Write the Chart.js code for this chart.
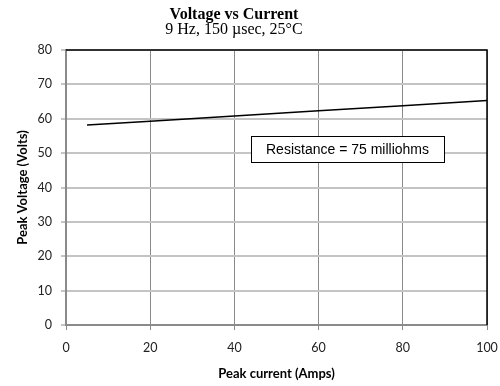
<!DOCTYPE html>
<html lang="en">
<head>
    <meta charset="UTF-8">
    <title>Voltage vs Current</title>
    <script src="https://cdn.jsdelivr.net/npm/chart.js"></script>
    <style>
        html, body { margin: 0; padding: 0; background: #fff; }
        #wrap { width: 500px; height: 386px; position: relative; }
    </style>
</head>
<body>
    <div id="wrap"><canvas id="chart"></canvas></div>

    <script>
        // values
        const currentAmps = [5, 20, 40, 60, 80, 100];
        const peakVolts = [58.2, 59.3, 60.8, 62.3, 63.8, 65.3];
        const titleText = 'Voltage vs Current';
        const subtitleText = '9 Hz, 150 \u00b5sec, 25\u00b0C';
        const noteText = 'Resistance = 75 milliohms';
        const xTicks = [0, 20, 40, 60, 80, 100];
        const yTicks = [0, 10, 20, 30, 40, 50, 60, 70, 80];

        const sansFont = 'Lato, "Open Sans", sans-serif';

        // titles, frame and the resistance note
        const decorPlugin = {
            id: 'decor',
            afterDraw(chart) {
                const ctx = chart.ctx;
                const a = chart.chartArea;
                ctx.save();
                // top and right frame lines
                ctx.strokeStyle = '#000';
                ctx.lineWidth = 1.5;
                ctx.beginPath();
                ctx.moveTo(a.left, a.top);
                ctx.lineTo(a.right, a.top);
                ctx.lineTo(a.right, a.bottom);
                ctx.stroke();

                // title + subtitle
                ctx.fillStyle = '#000';
                ctx.textAlign = 'center';
                ctx.textBaseline = 'alphabetic';
                ctx.font = 'bold 16px "Liberation Serif", "DejaVu Serif", serif';
                ctx.fillText(titleText, 234, 19);
                ctx.font = '16px "Liberation Serif", "DejaVu Serif", serif';
                ctx.fillText(subtitleText, 234, 34);

                // note box
                const bx = 251, by = 136, bw = 193, bh = 26;
                ctx.fillStyle = '#fff';
                ctx.fillRect(bx, by, bw, bh);
                ctx.strokeStyle = '#000';
                ctx.lineWidth = 1;
                ctx.strokeRect(bx + 0.5, by + 0.5, bw, bh);
                ctx.fillStyle = '#000';
                ctx.textBaseline = 'middle';
                ctx.font = '14px "Liberation Sans", Arial, sans-serif';
                ctx.fillText(noteText, bx + bw / 2, by + bh / 2 + 1);
                ctx.restore();
            }
        };

        new Chart(document.getElementById('chart').getContext('2d'), {
            type: 'line',
            data: {
                datasets: [{
                    data: currentAmps.map((x, i) => ({ x: x, y: peakVolts[i] })),
                    borderColor: '#000',
                    borderWidth: 1.5,
                    pointRadius: 0,
                    fill: false,
                    tension: 0
                }]
            },
            options: {
                responsive: true,
                maintainAspectRatio: false,
                animation: false,
                layout: { padding: { left: 0, right: 13, top: 50, bottom: 0 } },
                plugins: {
                    legend: { display: false },
                    title: { display: false },
                    tooltip: { enabled: false }
                },
                scales: {
                    x: {
                        type: 'linear',
                        min: 0,
                        max: 100,
                        afterBuildTicks(scale) { scale.ticks = xTicks.map(v => ({ value: v })); },
                        afterFit(scale) {
                            scale.height = 61;
                            scale.paddingRight = 0;
                            scale.paddingLeft = 0;
                        },
                        grid: { color: '#8a8a8a', lineWidth: 1, tickLength: 5 },
                        border: { color: '#8a8a8a', width: 2 },
                        ticks: { color: '#222', padding: 10, maxRotation: 0, font: { family: sansFont, size: 12.5 } },
                        title: {
                            display: true,
                            text: 'Peak current (Amps)',
                            color: '#000',
                            font: { family: sansFont, size: 13, weight: 'bold' },
                            padding: { top: 0, bottom: 4 }
                        }
                    },
                    y: {
                        min: 0,
                        max: 80,
                        afterBuildTicks(scale) { scale.ticks = yTicks.map(v => ({ value: v })); },
                        afterFit(scale) {
                            scale.width = 66;
                            scale.paddingTop = 0;
                            scale.paddingBottom = 0;
                        },
                        grid: { color: '#c4c4c4', lineWidth: 2, tickLength: 5, tickColor: '#8a8a8a', tickWidth: 1 },
                        border: { color: '#8a8a8a', width: 2 },
                        ticks: { color: '#222', padding: 9, font: { family: sansFont, size: 12.5 } },
                        title: {
                            display: true,
                            text: 'Peak Voltage (Volts)',
                            color: '#000',
                            font: { family: sansFont, size: 13, weight: 'bold' },
                            padding: { top: 15, bottom: 0 }
                        }
                    }
                }
            },
            plugins: [decorPlugin]
        });
    </script>
</body>
</html>
